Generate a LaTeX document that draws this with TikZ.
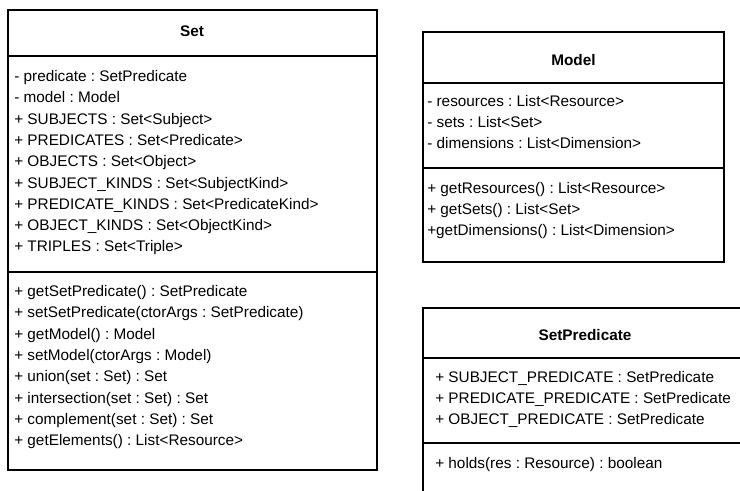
\documentclass[tikz,border=0pt]{standalone}
\usepackage{fontspec}
\setmainfont{Liberation Sans}
\frenchspacing
\begin{document}
\begin{tikzpicture}[x=0.75pt,y=-0.75pt,
  box/.style={line width=1.6pt, draw=black},
  title/.style={font=\fontsize{11.5}{14}\selectfont\bfseries, anchor=mid, inner sep=0pt},
  item/.style={font=\fontsize{11.5}{14}\selectfont, anchor=mid west, inner sep=0pt}]
\useasboundingbox (0,0) rectangle (740,490);
\clip (0,0) rectangle (740,490);
% Set
\draw[box] (8,10) rectangle (377,470);
\draw[box] (8,56) -- (377,56);
\draw[box] (8,272) -- (377,272);
\node[title] (setT) at (192,33) {Set};
\node[item] (s1) at (14,78) {- predicate : SetPredicate};
\node[item] (s2) at (14,99.3) {- model : Model};
\node[item] (s3) at (14,120.6) {+ SUBJECTS : Set<Subject>};
\node[item] (s4) at (14,141.9) {+ PREDICATES : Set<Predicate>};
\node[item] (s5) at (14,163.2) {+ OBJECTS : Set<Object>};
\node[item] (s6) at (14,184.5) {+ SUBJECT\_KINDS : Set<SubjectKind>};
\node[item] (s7) at (14,205.8) {+ PREDICATE\_KINDS : Set<PredicateKind>};
\node[item] (s8) at (14,227.1) {+ OBJECT\_KINDS : Set<ObjectKind>};
\node[item] (s9) at (14,248.4) {+ TRIPLES : Set<Triple>};
\node[item] (m1) at (14,293) {+ getSetPredicate() : SetPredicate};
\node[item] (m2) at (14,314.3) {+ setSetPredicate(ctorArgs : SetPredicate)};
\node[item] (m3) at (14,335.6) {+ getModel() : Model};
\node[item] (m4) at (14,356.9) {+ setModel(ctorArgs : Model)};
\node[item] (m5) at (14,378.2) {+ union(set : Set) : Set};
\node[item] (m6) at (14,399.5) {+ intersection(set : Set) : Set};
\node[item] (m7) at (14,420.8) {+ complement(set : Set) : Set};
\node[item] (m8) at (14,442.1) {+ getElements() : List<Resource>};
% Model
\draw[box] (423,32) rectangle (724,262);
\draw[box] (423,83) -- (724,83);
\draw[box] (423,168) -- (724,168);
\node[title] (modT) at (573.5,62) {Model};
\node[item] (ma1) at (427,103) {- resources : List<Resource>};
\node[item] (ma2) at (427,124) {- sets : List<Set>};
\node[item] (ma3) at (427,145) {- dimensions : List<Dimension>};
\node[item] (mm1) at (427,190) {+ getResources() : List<Resource>};
\node[item] (mm2) at (427,211) {+ getSets() : List<Set>};
\node[item] (mm3) at (427,232) {+getDimensions() : List<Dimension>};
% SetPredicate
\draw[box] (423,308) rectangle (760,520);
\draw[box] (423,358) -- (760,358);
\draw[box] (423,443) -- (760,443);
\node[title] (spT) at (585,337) {SetPredicate};
\node[item] (sp1) at (435,379) {+ SUBJECT\_PREDICATE : SetPredicate};
\node[item] (sp2) at (435,400) {+ PREDICATE\_PREDICATE : SetPredicate};
\node[item] (sp3) at (435,421) {+ OBJECT\_PREDICATE : SetPredicate};
\node[item] (sp4) at (435,465) {+ holds(res : Resource) : boolean};
\end{tikzpicture}
\end{document}
